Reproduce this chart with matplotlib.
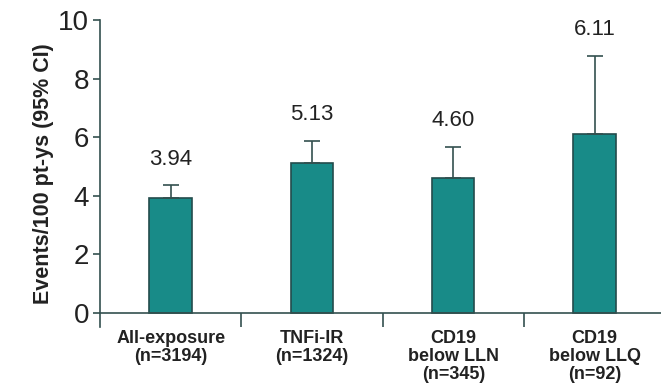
import matplotlib.pyplot as plt
import numpy as np

plt.rcParams['font.family'] = ['Liberation Sans', 'DejaVu Sans']

# Incidence rates (events/100 pt-ys) and upper 95% CI
groups = ['All-exposure\n(n=3194)', 'TNFi-IR\n(n=1324)',
          'CD19\nbelow LLN\n(n=345)', 'CD19\nbelow LLQ\n(n=92)']
rates = [3.94, 5.13, 4.60, 6.11]
upper_ci = [4.37, 5.88, 5.68, 8.78]
rate_labels = ['3.94', '5.13', '4.60', '6.11']

bar_color = '#188b88'
edge_color = '#244c4c'
axis_color = '#33504f'

fig = plt.figure(figsize=(6.61, 3.92), dpi=100)
ax = fig.add_axes([0.1513, 0.1658, 0.8487, 0.7832])

# spine positions first: moving a spine resets the ticks
ax.spines['top'].set_visible(False)
ax.spines['right'].set_visible(False)
ax.spines['bottom'].set_position(('data', 0))
for s in ['left', 'bottom']:
    ax.spines[s].set_color(axis_color)
    ax.spines[s].set_linewidth(1.2)

x = np.arange(len(groups))
upper_err = np.array(upper_ci) - np.array(rates)
ax.bar(x, rates, width=0.30, color=bar_color, edgecolor=edge_color, linewidth=1.2,
       yerr=[np.zeros(len(rates)), upper_err],
       error_kw=dict(ecolor=axis_color, elinewidth=1.2, capsize=6, capthick=1.2))

for xi, top, lab in zip(x, upper_ci, rate_labels):
    ax.annotate(lab, (xi, top), xytext=(0, 11), textcoords='offset points',
                ha='center', va='bottom', fontsize=16, color='#222222')

ax.set_xlim(-0.5, 3.47)
ax.set_ylim(-0.48, 10)
ax.set_yticks([0, 2, 4, 6, 8, 10])
ax.tick_params(axis='y', labelsize=20, length=5, width=1.2, color=axis_color,
               labelcolor='#222222', pad=3)

ax.set_xticks(x)
ax.set_xticks([0.5, 1.5, 2.5], minor=True)
ax.tick_params(axis='x', which='major', length=0, pad=12)
ax.tick_params(axis='x', which='minor', length=10, width=1.2, color=axis_color)
ax.set_xticklabels(groups, fontsize=13, fontweight='bold', color='#222222',
                   linespacing=1.1)

ax.set_ylabel('Events/100 pt-ys (95% CI)', fontsize=15.5, fontweight='bold',
              color='#222222', labelpad=3)

fig.savefig('out.png', dpi=100)
